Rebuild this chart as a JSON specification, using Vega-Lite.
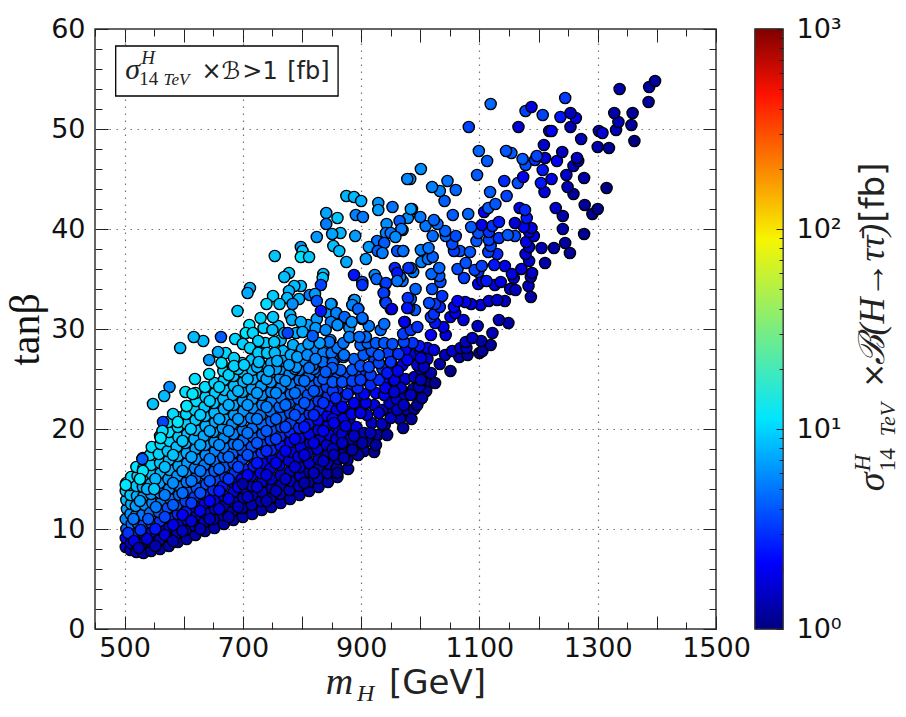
{
"$schema":"https://vega.github.io/schema/vega-lite/v6.json",
"background":"white",
"padding":{"left":3,"top":14,"right":0,"bottom":0},
"spacing":1,
"config":{"view":{"stroke":"#333","strokeWidth":1.5},"axis":{"labelFont":"DejaVu Sans","labelFontSize":27,"labelColor":"#111","tickColor":"#222","domain":false,"labelOverlap":false}},
"hconcat":[
{"width":621,"height":600,
"resolve":{"axis":{"x":"independent","y":"independent"}},
"layer":[
{"data":{"values":[
{"m":502,"t":8.2,"s":1.6},{"m":502,"t":9.1,"s":2},{"m":503,"t":10,"s":3.2},{"m":502,"t":11,"s":4.2},{"m":504,"t":12,"s":5.5},{"m":503,"t":12.9,"s":7},{"m":502,"t":13.8,"s":9},{"m":503,"t":14.6,"s":11},
{"m":510,"t":7.9,"s":1.4},{"m":511,"t":8.6,"s":1.8},{"m":509,"t":9.6,"s":2.5},{"m":512,"t":10.5,"s":3.4},{"m":510,"t":11.5,"s":4.6},{"m":511,"t":12.5,"s":6},{"m":510,"t":13.4,"s":7.5},{"m":509,"t":14.4,"s":9.5},{"m":511,"t":15.2,"s":11},
{"m":520,"t":7.7,"s":1.4},{"m":521,"t":8.5,"s":1.7},{"m":519,"t":9.5,"s":2.4},{"m":522,"t":10.6,"s":3.2},{"m":520,"t":11.4,"s":4.2},{"m":519,"t":12.3,"s":5.2},{"m":521,"t":13.3,"s":6.6},{"m":520,"t":14.3,"s":8},{"m":522,"t":15.3,"s":10},{"m":520,"t":16.2,"s":11.5},
{"m":532,"t":7.6,"s":1.3},{"m":531,"t":8.6,"s":1.6},{"m":533,"t":9.5,"s":2.1},{"m":532,"t":10.4,"s":2.8},{"m":530,"t":11.4,"s":3.6},{"m":534,"t":12.4,"s":4.5},{"m":532,"t":13.3,"s":5.5},{"m":531,"t":14.2,"s":6.7},{"m":533,"t":15.1,"s":8},{"m":532,"t":16.1,"s":9.5},{"m":531,"t":17.1,"s":11},
{"m":545,"t":7.8,"s":1.3},{"m":544,"t":8.7,"s":1.6},{"m":546,"t":9.7,"s":2},{"m":545,"t":10.6,"s":2.6},{"m":543,"t":11.6,"s":3.4},{"m":547,"t":12.6,"s":4.2},{"m":545,"t":13.5,"s":5},{"m":544,"t":14.5,"s":6.2},{"m":546,"t":15.5,"s":7.5},{"m":545,"t":16.4,"s":9},{"m":543,"t":17.4,"s":10},{"m":546,"t":18.2,"s":11},
{"m":560,"t":8,"s":1.3},{"m":559,"t":8.9,"s":1.5},{"m":561,"t":9.9,"s":1.9},{"m":560,"t":10.8,"s":2.4},{"m":558,"t":11.7,"s":3},{"m":562,"t":12.7,"s":3.7},{"m":560,"t":13.6,"s":4.5},{"m":559,"t":14.6,"s":5.5},{"m":561,"t":15.6,"s":6.6},{"m":560,"t":16.6,"s":7.8},{"m":558,"t":17.5,"s":9},{"m":561,"t":18.5,"s":10},{"m":560,"t":19.3,"s":11.5},
{"m":575,"t":8.3,"s":1.3},{"m":574,"t":9.2,"s":1.5},{"m":576,"t":10.2,"s":1.9},{"m":575,"t":11.1,"s":2.3},{"m":573,"t":12.1,"s":2.8},{"m":577,"t":13,"s":3.4},{"m":575,"t":14,"s":4.2},{"m":574,"t":15,"s":5},{"m":576,"t":15.9,"s":6},{"m":575,"t":16.9,"s":7},{"m":573,"t":17.8,"s":8},{"m":576,"t":18.8,"s":9},{"m":575,"t":19.7,"s":10.5},{"m":574,"t":20.7,"s":11.5},
{"m":590,"t":8.7,"s":1.3},{"m":589,"t":9.6,"s":1.5},{"m":591,"t":10.5,"s":1.9},{"m":590,"t":11.5,"s":2.3},{"m":588,"t":12.4,"s":2.8},{"m":592,"t":13.4,"s":3.3},{"m":590,"t":14.4,"s":4},{"m":589,"t":15.3,"s":4.7},{"m":591,"t":16.3,"s":5.5},{"m":590,"t":17.3,"s":6.4},{"m":588,"t":18.2,"s":7.4},{"m":591,"t":19.2,"s":8.5},{"m":590,"t":20.2,"s":9.5},{"m":589,"t":21.2,"s":10.5},
{"m":605,"t":9,"s":1.3},{"m":604,"t":9.9,"s":1.5},{"m":606,"t":10.9,"s":1.8},{"m":605,"t":11.8,"s":2.2},{"m":603,"t":12.8,"s":2.6},{"m":607,"t":13.7,"s":3.1},{"m":605,"t":14.7,"s":3.7},{"m":604,"t":15.7,"s":4.4},{"m":606,"t":16.6,"s":5},{"m":605,"t":17.6,"s":5.8},{"m":603,"t":18.6,"s":6.7},{"m":606,"t":19.5,"s":7.6},{"m":605,"t":20.5,"s":8.6},{"m":604,"t":21.5,"s":9.6},{"m":605,"t":22.3,"s":12},
{"m":620,"t":9.4,"s":1.3},{"m":619,"t":10.3,"s":1.5},{"m":621,"t":11.3,"s":1.7},{"m":620,"t":12.2,"s":2.1},{"m":618,"t":13.2,"s":2.5},{"m":622,"t":14.1,"s":2.9},{"m":620,"t":15.1,"s":3.4},{"m":619,"t":16.1,"s":4},{"m":621,"t":17,"s":4.7},{"m":620,"t":18,"s":5.4},{"m":618,"t":19,"s":6.2},{"m":621,"t":19.9,"s":7},{"m":620,"t":20.9,"s":8},{"m":619,"t":21.9,"s":9},{"m":621,"t":22.8,"s":10},{"m":620,"t":23.6,"s":11},
{"m":636,"t":9.8,"s":1.3},{"m":635,"t":10.7,"s":1.5},{"m":637,"t":11.6,"s":1.7},{"m":636,"t":12.6,"s":2},{"m":634,"t":13.5,"s":2.4},{"m":638,"t":14.5,"s":2.8},{"m":636,"t":15.5,"s":3.2},{"m":635,"t":16.4,"s":3.8},{"m":637,"t":17.4,"s":4.4},{"m":636,"t":18.4,"s":5},{"m":634,"t":19.3,"s":5.8},{"m":637,"t":20.3,"s":6.6},{"m":636,"t":21.3,"s":7.4},{"m":635,"t":22.2,"s":8.3},{"m":637,"t":23.2,"s":9.3},{"m":636,"t":24.2,"s":10.5},
{"m":652,"t":10.1,"s":1.3},{"m":651,"t":11,"s":1.4},{"m":653,"t":12,"s":1.7},{"m":652,"t":12.9,"s":2},{"m":650,"t":13.9,"s":2.3},{"m":654,"t":14.9,"s":2.6},{"m":652,"t":15.8,"s":3},{"m":651,"t":16.8,"s":3.5},{"m":653,"t":17.8,"s":4.1},{"m":652,"t":18.7,"s":4.7},{"m":650,"t":19.7,"s":5.3},{"m":653,"t":20.7,"s":6},{"m":652,"t":21.6,"s":6.8},{"m":651,"t":22.6,"s":7.6},{"m":653,"t":23.6,"s":8.6},{"m":652,"t":24.6,"s":9.6},
{"m":668,"t":10.5,"s":1.3},{"m":667,"t":11.4,"s":1.4},{"m":669,"t":12.3,"s":1.6},{"m":668,"t":13.3,"s":1.9},{"m":666,"t":14.3,"s":2.2},{"m":670,"t":15.2,"s":2.5},{"m":668,"t":16.2,"s":2.9},{"m":667,"t":17.2,"s":3.3},{"m":669,"t":18.1,"s":3.8},{"m":668,"t":19.1,"s":4.4},{"m":666,"t":20.1,"s":5},{"m":669,"t":21,"s":5.6},{"m":668,"t":22,"s":6.3},{"m":667,"t":23,"s":7},{"m":669,"t":23.9,"s":8},{"m":668,"t":24.9,"s":9},{"m":667,"t":25.8,"s":10},
{"m":684,"t":10.9,"s":1.3},{"m":683,"t":11.8,"s":1.4},{"m":685,"t":12.7,"s":1.6},{"m":684,"t":13.7,"s":1.8},{"m":682,"t":14.7,"s":2.1},{"m":686,"t":15.6,"s":2.4},{"m":684,"t":16.6,"s":2.7},{"m":683,"t":17.6,"s":3.1},{"m":685,"t":18.5,"s":3.6},{"m":684,"t":19.5,"s":4.1},{"m":682,"t":20.5,"s":4.6},{"m":685,"t":21.4,"s":5.2},{"m":684,"t":22.4,"s":5.8},{"m":683,"t":23.4,"s":6.5},{"m":685,"t":24.3,"s":7.3},{"m":684,"t":25.3,"s":8.2},{"m":683,"t":26.2,"s":9},
{"m":700,"t":11.2,"s":1.3},{"m":699,"t":12.1,"s":1.4},{"m":701,"t":13.1,"s":1.6},{"m":700,"t":14.1,"s":1.8},{"m":698,"t":15,"s":2},{"m":702,"t":16,"s":2.3},{"m":700,"t":17,"s":2.6},{"m":699,"t":17.9,"s":2.9},{"m":701,"t":18.9,"s":3.4},{"m":700,"t":19.9,"s":3.8},{"m":698,"t":20.8,"s":4.3},{"m":701,"t":21.8,"s":4.8},{"m":700,"t":22.8,"s":5.4},{"m":699,"t":23.7,"s":6},{"m":701,"t":24.7,"s":6.8},{"m":700,"t":25.7,"s":7.6},{"m":699,"t":26.6,"s":8.5},
{"m":716,"t":11.5,"s":1.3},{"m":715,"t":12.4,"s":1.4},{"m":717,"t":13.4,"s":1.5},{"m":716,"t":14.3,"s":1.7},{"m":714,"t":15.3,"s":1.9},{"m":718,"t":16.3,"s":2.2},{"m":716,"t":17.2,"s":2.5},{"m":715,"t":18.2,"s":2.8},{"m":717,"t":19.2,"s":3.1},{"m":716,"t":20.1,"s":3.5},{"m":714,"t":21.1,"s":4},{"m":717,"t":22.1,"s":4.5},{"m":716,"t":23,"s":5},{"m":715,"t":24,"s":5.6},{"m":717,"t":25,"s":6.3},{"m":716,"t":25.9,"s":7},{"m":715,"t":26.9,"s":7.8},
{"m":732,"t":11.9,"s":1.3},{"m":731,"t":12.8,"s":1.4},{"m":733,"t":13.7,"s":1.5},{"m":732,"t":14.7,"s":1.7},{"m":730,"t":15.6,"s":1.9},{"m":734,"t":16.6,"s":2.1},{"m":732,"t":17.6,"s":2.4},{"m":731,"t":18.5,"s":2.6},{"m":733,"t":19.5,"s":2.9},{"m":732,"t":20.5,"s":3.3},{"m":730,"t":21.4,"s":3.7},{"m":733,"t":22.4,"s":4.2},{"m":732,"t":23.4,"s":4.6},{"m":731,"t":24.3,"s":5.2},{"m":733,"t":25.3,"s":5.8},{"m":732,"t":26.3,"s":6.5},
{"m":748,"t":12.2,"s":1.3},{"m":747,"t":13.1,"s":1.4},{"m":749,"t":14.1,"s":1.5},{"m":748,"t":15,"s":1.6},{"m":746,"t":16,"s":1.8},{"m":750,"t":17,"s":2},{"m":748,"t":17.9,"s":2.3},{"m":747,"t":18.9,"s":2.5},{"m":749,"t":19.9,"s":2.8},{"m":748,"t":20.8,"s":3.1},{"m":746,"t":21.8,"s":3.5},{"m":749,"t":22.8,"s":3.9},{"m":748,"t":23.7,"s":4.3},{"m":747,"t":24.7,"s":4.8},{"m":749,"t":25.7,"s":5.4},{"m":748,"t":26.6,"s":6},
{"m":764,"t":12.6,"s":1.3},{"m":763,"t":13.5,"s":1.4},{"m":765,"t":14.4,"s":1.5},{"m":764,"t":15.4,"s":1.6},{"m":762,"t":16.4,"s":1.8},{"m":766,"t":17.3,"s":2},{"m":764,"t":18.3,"s":2.2},{"m":763,"t":19.3,"s":2.4},{"m":765,"t":20.2,"s":2.7},{"m":764,"t":21.2,"s":3},{"m":762,"t":22.2,"s":3.3},{"m":765,"t":23.1,"s":3.7},{"m":764,"t":24.1,"s":4.1},{"m":763,"t":25.1,"s":4.6},{"m":765,"t":26,"s":5.1},
{"m":780,"t":13,"s":1.3},{"m":779,"t":13.9,"s":1.4},{"m":781,"t":14.8,"s":1.5},{"m":780,"t":15.8,"s":1.6},{"m":778,"t":16.8,"s":1.7},{"m":782,"t":17.7,"s":1.9},{"m":780,"t":18.7,"s":2.1},{"m":779,"t":19.7,"s":2.3},{"m":781,"t":20.6,"s":2.6},{"m":780,"t":21.6,"s":2.8},{"m":778,"t":22.6,"s":3.1},{"m":781,"t":23.5,"s":3.5},{"m":780,"t":24.5,"s":3.9},{"m":779,"t":25.5,"s":4.3},{"m":781,"t":26.4,"s":4.8},
{"m":796,"t":13.4,"s":1.3},{"m":795,"t":14.3,"s":1.4},{"m":797,"t":15.3,"s":1.5},{"m":796,"t":16.2,"s":1.6},{"m":794,"t":17.2,"s":1.7},{"m":798,"t":18.2,"s":1.9},{"m":796,"t":19.1,"s":2.1},{"m":795,"t":20.1,"s":2.3},{"m":797,"t":21.1,"s":2.5},{"m":796,"t":22,"s":2.7},{"m":794,"t":23,"s":3},{"m":797,"t":24,"s":3.3},{"m":796,"t":24.9,"s":3.6},{"m":795,"t":25.9,"s":4},
{"m":812,"t":13.8,"s":1.3},{"m":811,"t":14.7,"s":1.4},{"m":813,"t":15.7,"s":1.5},{"m":812,"t":16.6,"s":1.6},{"m":810,"t":17.6,"s":1.7},{"m":814,"t":18.6,"s":1.8},{"m":812,"t":19.5,"s":2},{"m":811,"t":20.5,"s":2.2},{"m":813,"t":21.5,"s":2.4},{"m":812,"t":22.4,"s":2.6},{"m":810,"t":23.4,"s":2.8},{"m":813,"t":24.4,"s":3.1},{"m":812,"t":25.3,"s":3.4},
{"m":828,"t":14.2,"s":1.3},{"m":827,"t":15.1,"s":1.4},{"m":829,"t":16.1,"s":1.4},{"m":828,"t":17,"s":1.5},{"m":826,"t":18,"s":1.7},{"m":830,"t":19,"s":1.8},{"m":828,"t":19.9,"s":2},{"m":827,"t":20.9,"s":2.1},{"m":829,"t":21.9,"s":2.3},{"m":828,"t":22.8,"s":2.5},{"m":826,"t":23.8,"s":2.7},{"m":829,"t":24.8,"s":3},{"m":828,"t":25.7,"s":3.2},
{"m":844,"t":14.7,"s":1.3},{"m":843,"t":15.6,"s":1.3},{"m":845,"t":16.5,"s":1.4},{"m":844,"t":17.5,"s":1.5},{"m":842,"t":18.4,"s":1.6},{"m":846,"t":19.4,"s":1.8},{"m":844,"t":20.4,"s":1.9},{"m":843,"t":21.3,"s":2.1},{"m":845,"t":22.3,"s":2.2},{"m":844,"t":23.3,"s":2.4},{"m":842,"t":24.2,"s":2.6},{"m":845,"t":25.2,"s":2.8},
{"m":860,"t":15.2,"s":1.3},{"m":859,"t":16.1,"s":1.3},{"m":861,"t":17,"s":1.4},{"m":860,"t":18,"s":1.5},{"m":858,"t":19,"s":1.6},{"m":862,"t":19.9,"s":1.7},{"m":860,"t":20.9,"s":1.9},{"m":859,"t":21.9,"s":2},{"m":861,"t":22.8,"s":2.2},{"m":860,"t":23.8,"s":2.3},
{"m":878,"t":16,"s":1.3},{"m":877,"t":16.9,"s":1.3},{"m":879,"t":17.9,"s":1.4},{"m":878,"t":18.8,"s":1.5},{"m":876,"t":19.8,"s":1.6},{"m":880,"t":20.8,"s":1.7},{"m":878,"t":21.7,"s":1.9},
{"m":506,"t":9.6,"s":2.4},{"m":515,"t":11,"s":3.6},{"m":526,"t":12.8,"s":5.5},{"m":538,"t":14,"s":6.4},{"m":552,"t":15,"s":6.5},{"m":568,"t":16.2,"s":7.2},{"m":582,"t":17.4,"s":7.6},{"m":598,"t":18.8,"s":8},{"m":612,"t":20,"s":8.4},{"m":628,"t":21.4,"s":8.4},{"m":644,"t":22.8,"s":8.4},{"m":660,"t":24.2,"s":8.8},{"m":676,"t":25.4,"s":9},{"m":692,"t":26,"s":8.5},
{"m":516,"t":8.8,"s":1.9},{"m":527,"t":9.9,"s":2.4},{"m":540,"t":11,"s":3},{"m":553,"t":12.2,"s":3.7},{"m":568,"t":13.4,"s":3.9},{"m":582,"t":14.6,"s":4.5},{"m":598,"t":15.8,"s":5},{"m":613,"t":17.2,"s":5.4},{"m":628,"t":18.4,"s":5.6},{"m":644,"t":19.8,"s":5.8},{"m":660,"t":21,"s":6},{"m":676,"t":22.4,"s":6.2},{"m":692,"t":23.8,"s":6.6},{"m":708,"t":25,"s":6.8},{"m":724,"t":26.2,"s":6.6},
{"m":524,"t":8.1,"s":1.4},{"m":538,"t":9,"s":1.7},{"m":552,"t":10,"s":2.2},{"m":568,"t":11.2,"s":2.6},{"m":582,"t":12.4,"s":3},{"m":598,"t":13.6,"s":3.4},{"m":613,"t":14.8,"s":3.7},{"m":628,"t":15.8,"s":3.7},{"m":644,"t":17,"s":4},{"m":660,"t":18.4,"s":4.4},{"m":676,"t":19.8,"s":4.6},{"m":692,"t":21,"s":4.8},{"m":708,"t":22.4,"s":5},{"m":724,"t":23.6,"s":5.2},{"m":740,"t":25,"s":5.4},{"m":756,"t":26,"s":5.2},
{"m":552,"t":8.3,"s":1.35},{"m":568,"t":9.4,"s":1.7},{"m":582,"t":10.4,"s":1.9},{"m":598,"t":11.4,"s":2.1},{"m":613,"t":12.6,"s":2.5},{"m":628,"t":13.6,"s":2.8},{"m":644,"t":14.8,"s":2.9},{"m":660,"t":16,"s":3.2},{"m":676,"t":17.2,"s":3.3},{"m":692,"t":18.4,"s":3.5},{"m":708,"t":19.6,"s":3.6},{"m":724,"t":21,"s":3.9},{"m":740,"t":22.2,"s":4},{"m":756,"t":23.6,"s":4.3},{"m":772,"t":24.8,"s":4.4},{"m":788,"t":26,"s":4.4},
{"m":582,"t":8.8,"s":1.35},{"m":598,"t":9.8,"s":1.5},{"m":613,"t":10.8,"s":1.7},{"m":628,"t":11.8,"s":1.9},{"m":644,"t":12.8,"s":2.1},{"m":660,"t":13.8,"s":2.2},{"m":676,"t":15,"s":2.4},{"m":692,"t":16.2,"s":2.6},{"m":708,"t":17.4,"s":2.8},{"m":724,"t":18.6,"s":2.9},{"m":740,"t":19.8,"s":3},{"m":756,"t":21,"s":3.1},{"m":772,"t":22.4,"s":3.4},{"m":788,"t":23.6,"s":3.5},{"m":804,"t":24.8,"s":3.5},{"m":820,"t":26,"s":3.5},
{"m":628,"t":10,"s":1.35},{"m":644,"t":11,"s":1.5},{"m":660,"t":12,"s":1.7},{"m":676,"t":13,"s":1.8},{"m":692,"t":14.2,"s":2},{"m":708,"t":15.4,"s":2.1},{"m":724,"t":16.6,"s":2.2},{"m":740,"t":17.8,"s":2.3},{"m":756,"t":19,"s":2.5},{"m":772,"t":20.2,"s":2.6},{"m":788,"t":21.4,"s":2.8},{"m":804,"t":22.6,"s":2.9},{"m":820,"t":23.8,"s":2.9},{"m":836,"t":25,"s":3},
{"m":676,"t":11.2,"s":1.35},{"m":692,"t":12.2,"s":1.45},{"m":708,"t":13.2,"s":1.55},{"m":724,"t":14.2,"s":1.65},{"m":740,"t":15.4,"s":1.75},{"m":756,"t":16.6,"s":1.9},{"m":772,"t":17.8,"s":2},{"m":788,"t":19,"s":2.1},{"m":804,"t":20.2,"s":2.2},{"m":820,"t":21.4,"s":2.3},{"m":836,"t":22.6,"s":2.4},{"m":852,"t":23.8,"s":2.5},
{"m":740,"t":12.8,"s":1.35},{"m":756,"t":13.8,"s":1.45},{"m":772,"t":15,"s":1.55},{"m":788,"t":16.2,"s":1.65},{"m":804,"t":17.4,"s":1.75},{"m":820,"t":18.6,"s":1.85},{"m":836,"t":19.8,"s":2},{"m":852,"t":21,"s":2.1},
{"m":804,"t":14.6,"s":1.3},{"m":820,"t":15.6,"s":1.4},{"m":836,"t":16.8,"s":1.5},{"m":852,"t":18,"s":1.55},{"m":868,"t":17.4,"s":1.4},{"m":890,"t":18.6,"s":1.45},{"m":905,"t":17.8,"s":1.25},{"m":895,"t":17.4,"s":1.25},{"m":912,"t":18.8,"s":1.3},
{"m":868,"t":19.5,"s":1.7},{"m":882,"t":19,"s":1.5},{"m":892,"t":20.2,"s":1.8},{"m":905,"t":19.6,"s":1.4},{"m":918,"t":20.6,"s":1.5},{"m":928,"t":19.4,"s":1.3},{"m":940,"t":20.4,"s":1.4},{"m":955,"t":21.8,"s":1.4},{"m":966,"t":21,"s":1.3},{"m":978,"t":21.9,"s":1.3},{"m":990,"t":22,"s":1.25},{"m":1000,"t":23,"s":1.25},{"m":1010,"t":23.8,"s":1.2},{"m":1015,"t":24.8,"s":1.25},{"m":870,"t":21,"s":2},{"m":884,"t":21.5,"s":1.9},{"m":896,"t":22.3,"s":1.9},{"m":910,"t":21.4,"s":1.7},{"m":922,"t":22.4,"s":1.8},{"m":936,"t":21.9,"s":1.6},{"m":948,"t":22.6,"s":1.6},{"m":960,"t":23,"s":1.6},{"m":974,"t":23.4,"s":1.45},{"m":988,"t":24,"s":1.4},{"m":1004,"t":25.4,"s":1.35},{"m":872,"t":23.2,"s":2.4},{"m":884,"t":24,"s":2.4},{"m":900,"t":23.4,"s":2.2},{"m":912,"t":24.8,"s":2.3},{"m":925,"t":23.6,"s":2.1},{"m":938,"t":24.8,"s":2.1},{"m":950,"t":24.2,"s":1.85},{"m":962,"t":24.6,"s":1.8},{"m":975,"t":25,"s":1.65},{"m":990,"t":25.2,"s":1.5},{"m":858,"t":25,"s":3},{"m":875,"t":25.4,"s":2.8},{"m":892,"t":25.4,"s":2.7},{"m":908,"t":25.8,"s":2.5},{"m":922,"t":26.8,"s":2.6},{"m":936,"t":26,"s":2.4},{"m":955,"t":26.2,"s":2.2},{"m":970,"t":26.4,"s":1.95},{"m":985,"t":27.4,"s":1.9},{"m":1000,"t":26,"s":1.55},{"m":1012,"t":27,"s":1.6},{"m":840,"t":26.6,"s":3.6},{"m":856,"t":27,"s":3.6},{"m":888,"t":27,"s":3.2},{"m":904,"t":27.4,"s":3},{"m":918,"t":27.8,"s":2.9},{"m":945,"t":27.6,"s":2.5},{"m":975,"t":27.9,"s":2.1},{"m":1000,"t":27.8,"s":1.9},
{"m":725,"t":27.8,"s":8},{"m":738,"t":28.6,"s":8},{"m":768,"t":27.8,"s":6.8},{"m":785,"t":28.4,"s":6},{"m":800,"t":28,"s":5.4},{"m":820,"t":28,"s":4.2},{"m":836,"t":27.6,"s":3.9},{"m":768,"t":26.8,"s":5.8},{"m":790,"t":26.2,"s":4.8},{"m":805,"t":26.8,"s":4.4},{"m":818,"t":26.4,"s":3.9},{"m":835,"t":26.7,"s":3.4},{"m":850,"t":27.6,"s":3.5},{"m":852,"t":26.6,"s":3.2},{"m":764,"t":28.9,"s":7},{"m":790,"t":29.6,"s":6.2},{"m":735,"t":30.1,"s":8.5},{"m":760,"t":30.3,"s":7.2},{"m":810,"t":30.4,"s":5.4},{"m":825,"t":31,"s":5},{"m":845,"t":31.6,"s":5},{"m":780,"t":31.4,"s":6.8},{"m":735,"t":27.6,"s":7.4},
{"m":860,"t":15.6,"s":1.1},{"m":854,"t":17.4,"s":1.4},{"m":871,"t":17.1,"s":1.3},{"m":868,"t":18.6,"s":1.5},{"m":885,"t":17.9,"s":1.3},{"m":902,"t":18.6,"s":1.3},{"m":922,"t":17.7,"s":1.1},{"m":925,"t":18.4,"s":1.2},{"m":888,"t":19.3,"s":1.5},{"m":916,"t":19.6,"s":1.4},{"m":944,"t":19.4,"s":1.2},{"m":854,"t":20.6,"s":1.9},{"m":874,"t":20.3,"s":1.8},{"m":935,"t":20.5,"s":1.5},{"m":971,"t":20.1,"s":1.2},{"m":950,"t":21.1,"s":1.5},{"m":985,"t":21,"s":1.2},{"m":899,"t":21.6,"s":1.8},{"m":930,"t":21.6,"s":1.7},{"m":961,"t":21.9,"s":1.5},{"m":868,"t":22.2,"s":2.1},{"m":888,"t":22.6,"s":2},{"m":908,"t":22.6,"s":1.9},{"m":972,"t":22.4,"s":1.5},{"m":995,"t":22.4,"s":1.2},{"m":857,"t":23.1,"s":2.3},{"m":1003,"t":23.1,"s":1.3},{"m":877,"t":23.5,"s":2.3},{"m":905,"t":23.5,"s":2.1},{"m":939,"t":23.4,"s":1.9},{"m":984,"t":23.4,"s":1.5},{"m":894,"t":24.1,"s":2.3},{"m":941,"t":24.1,"s":2},{"m":967,"t":24.1,"s":1.7},{"m":998,"t":24.2,"s":1.4},{"m":956,"t":23.7,"s":1.7},{"m":1025,"t":24.6,"s":1.1},{"m":852,"t":24.7,"s":2.9},{"m":868,"t":24.7,"s":2.8},{"m":885,"t":24.8,"s":2.6},{"m":899,"t":24.9,"s":2.5},{"m":916,"t":24.4,"s":2.3},{"m":930,"t":24.9,"s":2.3},{"m":956,"t":24.9,"s":1.9},{"m":1001,"t":24.9,"s":1.4},{"m":916,"t":25.4,"s":2.5},{"m":944,"t":25.6,"s":2.2},{"m":962,"t":25.8,"s":2},{"m":1018,"t":25.6,"s":1.3},{"m":1051,"t":25.8,"s":1.1},{"m":865,"t":25.9,"s":3},{"m":885,"t":25.9,"s":2.9},{"m":851,"t":26.1,"s":3},{"m":899,"t":26.3,"s":2.8},{"m":913,"t":26.2,"s":2.7},{"m":930,"t":26.6,"s":2.6},{"m":950,"t":26.7,"s":2.4},{"m":995,"t":26.4,"s":1.7},{"m":1006,"t":26.2,"s":1.5},{"m":1033,"t":26.5,"s":1.3},
{"m":978,"t":26.9,"s":2.1},{"m":1001,"t":27.1,"s":1.8},{"m":870,"t":27.2,"s":3.3},{"m":930,"t":27.4,"s":2.9},{"m":963,"t":27.5,"s":2.4},{"m":1042,"t":27.4,"s":1.4},{"m":1066,"t":27.2,"s":1.3},{"m":1080,"t":27.4,"s":1.2},{"m":1100,"t":27.6,"s":1.1},{"m":1105,"t":27.8,"s":1.2},{"m":860,"t":28.1,"s":3.8},{"m":1012,"t":28.1,"s":2},{"m":1023,"t":27.9,"s":1.8},{"m":1054,"t":27.8,"s":1.6},{"m":1068,"t":28.1,"s":1.5},{"m":1078,"t":28.1,"s":1.4},{"m":899,"t":28.4,"s":3.2},{"m":998,"t":28.3,"s":2.2},{"m":1119,"t":28.4,"s":1.2},{"m":911,"t":28.6,"s":3.2},{"m":870,"t":28.6,"s":3.6},{"m":925,"t":28.6,"s":3},{"m":939,"t":28.6,"s":2.9},{"m":953,"t":28.5,"s":2.8},{"m":987,"t":28.6,"s":2.4},{"m":1077,"t":28.7,"s":1.5},{"m":1103,"t":28.8,"s":1.3},{"m":848,"t":28.9,"s":4.3},{"m":972,"t":28.7,"s":2.6},{"m":1088,"t":29.1,"s":1.5},{"m":881,"t":29.2,"s":4.4},{"m":908,"t":29.2,"s":3.4},{"m":1018,"t":29.4,"s":2.1},{"m":1043,"t":29.4,"s":1.8},{"m":971,"t":29.5,"s":2.5},{"m":1122,"t":29.6,"s":1.4},{"m":933,"t":29.9,"s":3.3},{"m":984,"t":29.9,"s":2.4},{"m":880,"t":30.1,"s":4.6},{"m":995,"t":30.2,"s":2.4},{"m":1039,"t":30.2,"s":1.9},{"m":1097,"t":30.3,"s":1.5},{"m":860,"t":30.4,"s":5},{"m":913,"t":30.3,"s":3.8},{"m":939,"t":30.5,"s":3.4},{"m":974,"t":30.7,"s":2.7},{"m":1025,"t":30.6,"s":2.2},{"m":1149,"t":30.6,"s":1.3},{"m":1073,"t":30.9,"s":1.7},{"m":1133,"t":30.9,"s":1.4},{"m":902,"t":31,"s":4.2},{"m":871,"t":31.1,"s":5},{"m":1051,"t":31.2,"s":2},{"m":1018,"t":31.2,"s":2.5},{"m":1023,"t":31.5,"s":2.4},{"m":858,"t":31.6,"s":5.6},{"m":1059,"t":31.6,"s":2},{"m":991,"t":31.9,"s":3},{"m":895,"t":32,"s":4.7},{"m":950,"t":32,"s":2.9},{"m":981,"t":32.1,"s":3},{"m":1033,"t":32.2,"s":2.3},{"m":1057,"t":32.2,"s":2.1},{"m":886,"t":32.4,"s":5},{"m":1102,"t":32.4,"s":1.8},{"m":850,"t":32.5,"s":6},{"m":1025,"t":32.5,"s":2.5},{"m":1086,"t":32.5,"s":1.8},{"m":1015,"t":32.6,"s":2.7},{"m":941,"t":32.7,"s":3.5},{"m":1076,"t":32.7,"s":1.9},{"m":1063,"t":32.8,"s":2.1},{"m":1116,"t":32.8,"s":1.7},{"m":1143,"t":32.8,"s":1.5},{"m":888,"t":32.9,"s":4.8},{"m":1130,"t":32.9,"s":1.6},{"m":984,"t":33,"s":3},{"m":1187,"t":33.2,"s":1.3},{"m":1037,"t":33.3,"s":2.4},{"m":1152,"t":34,"s":1.6},{"m":1161,"t":33.9,"s":1.5},{"m":992,"t":34,"s":3.2},{"m":1020,"t":34,"s":2.8},{"m":939,"t":33.6,"s":3.8},{"m":941,"t":34.5,"s":4},{"m":1183,"t":34.3,"s":1.5},{"m":1098,"t":34.5,"s":2.1},{"m":1126,"t":34.4,"s":1.8},{"m":1034,"t":34.7,"s":2.7},{"m":1136,"t":34.7,"s":1.8},{"m":970,"t":34.8,"s":3.6},{"m":1105,"t":34.8,"s":2.1},{"m":1112,"t":34.8,"s":2.2},{"m":1158,"t":35.1,"s":1.7},{"m":1074,"t":35.1,"s":2.5},{"m":966,"t":35.2,"s":3.8},{"m":1187,"t":35.2,"s":1.5},{"m":1032,"t":35.3,"s":3},{"m":1019,"t":35.5,"s":3.2},{"m":1155,"t":35.5,"s":1.8},{"m":1189,"t":35.6,"s":1.5},{"m":988,"t":35.7,"s":3.7},{"m":1098,"t":35.7,"s":2.4},{"m":1092,"t":35.9,"s":2.6},{"m":1063,"t":36,"s":2.7},{"m":1171,"t":36,"s":1.7},{"m":984,"t":36.1,"s":3.9},{"m":1032,"t":36.1,"s":3.2},{"m":1104,"t":36.3,"s":2.5},{"m":1143,"t":36.3,"s":1.9},{"m":1125,"t":36.4,"s":2.2},{"m":1077,"t":36.6,"s":2.8},{"m":1211,"t":36.6,"s":1.3},{"m":1002,"t":36.7,"s":3.9},{"m":1184,"t":36.8,"s":1.6},{"m":1013,"t":37,"s":3.5},{"m":1021,"t":37.2,"s":3.1},{"m":1130,"t":37.5,"s":2.3},{"m":1178,"t":37.5,"s":1.7},{"m":1253,"t":37.6,"s":1.2},{"m":1067,"t":37.8,"s":2.8},{"m":1057,"t":37.8,"s":2.5},{"m":1084,"t":37.7,"s":2.9},{"m":1115,"t":37.7,"s":2.5},{"m":971,"t":37.8,"s":4.2},{"m":1001,"t":37.9,"s":3.8},{"m":1014,"t":38.1,"s":3.6},{"m":1184,"t":38.2,"s":1.7},{"m":1205,"t":38.1,"s":1.4},{"m":1226,"t":38.1,"s":1.3},{"m":1119,"t":38.3,"s":2.6},{"m":1054,"t":38.5,"s":2.7},{"m":1245,"t":38.6,"s":1.2},{"m":1179,"t":38.7,"s":1.9},{"m":1095,"t":38.8,"s":2.9},{"m":1116,"t":38.9,"s":2.6},{"m":1133,"t":39.1,"s":2.4},{"m":1021,"t":39.3,"s":3.4},{"m":1043,"t":39.3,"s":3.2},{"m":1060,"t":39.3,"s":2.7},{"m":1160,"t":39.3,"s":2.7},{"m":1192,"t":39.3,"s":1.8},{"m":1148,"t":39.4,"s":2.9},{"m":1277,"t":39.5,"s":1.1},{"m":1098,"t":39.6,"s":2.8},{"m":1116,"t":39.7,"s":2.4},{"m":1184,"t":39.7,"s":1.9},{"m":1042,"t":39.8,"s":3.1},{"m":970,"t":39.9,"s":4.2},{"m":1241,"t":40,"s":1.3},{"m":1188,"t":40.1,"s":1.8},{"m":1086,"t":40.2,"s":3},{"m":1175,"t":40.2,"s":2},{"m":1009,"t":40.3,"s":3.7},{"m":1122,"t":40.3,"s":2.4},{"m":1104,"t":40.4,"s":1.9},{"m":1029,"t":40.5,"s":3.4},{"m":1160,"t":40.6,"s":1.7},{"m":1133,"t":40.7,"s":2.2},{"m":1023,"t":40.9,"s":3.2},{"m":979,"t":41.1,"s":4.4},{"m":1000,"t":41.2,"s":3.7},{"m":1180,"t":41.1,"s":2.2},{"m":1241,"t":41.3,"s":1.3},{"m":1055,"t":41.4,"s":3},{"m":1291,"t":41.5,"s":1.1},{"m":1081,"t":41.5,"s":3.2},{"m":1108,"t":41.7,"s":2.1},{"m":986,"t":42,"s":4.6},{"m":1300,"t":42,"s":1.1},{"m":1115,"t":42.1,"s":3},{"m":1168,"t":42.1,"s":2.1},{"m":1177,"t":41.9,"s":2.3},{"m":1229,"t":42.1,"s":1.6},{"m":1278,"t":42.4,"s":1.2},{"m":1127,"t":42.5,"s":2.9},{"m":1041,"t":42.8,"s":3.1},{"m":1146,"t":43.3,"s":2.6},{"m":1259,"t":43.5,"s":1.2},{"m":1118,"t":43.7,"s":3},{"m":1210,"t":43.7,"s":1.8},{"m":1033,"t":43.8,"s":4},{"m":1060,"t":43.9,"s":3.2},{"m":1315,"t":44.1,"s":1.05},{"m":1020,"t":44.2,"s":4},{"m":1249,"t":44.2,"s":1.4},{"m":1165,"t":44.6,"s":2.8},{"m":1204,"t":44.6,"s":2.2},{"m":1142,"t":44.8,"s":2.3},{"m":1046,"t":44.8,"s":3.6},{"m":983,"t":45,"s":4.6},{"m":1222,"t":45,"s":1.9},{"m":1277,"t":45.1,"s":1.3},{"m":1174,"t":45.2,"s":2},{"m":1096,"t":45.4,"s":3},{"m":1247,"t":45.4,"s":1.6},{"m":1207,"t":45.9,"s":2.2},{"m":1001,"t":46,"s":4.5},{"m":1259,"t":46.3,"s":1.5},{"m":1178,"t":46.4,"s":2.8},{"m":1113,"t":46.8,"s":3},{"m":1231,"t":46.8,"s":2},{"m":1267,"t":46.8,"s":1.4},{"m":1194,"t":46.9,"s":2.4},{"m":1173,"t":47,"s":3},{"m":1211,"t":47.1,"s":1.7},{"m":1265,"t":47.1,"s":1.5},{"m":1197,"t":47.3,"s":2.6},{"m":1154,"t":47.6,"s":3},{"m":1240,"t":47.7,"s":1.5},{"m":1099,"t":47.8,"s":3.3},{"m":1145,"t":47.8,"s":2.9},{"m":1319,"t":48.1,"s":1.2},{"m":1300,"t":48.2,"s":1.3},{"m":1209,"t":48.4,"s":1.6},{"m":1362,"t":48.8,"s":1.05},{"m":1272,"t":49,"s":1.4},{"m":1302,"t":49.8,"s":1.4},{"m":1308,"t":49.6,"s":1.7},{"m":1218,"t":49.8,"s":1.7},{"m":1222,"t":49.8,"s":2},{"m":1331,"t":49.9,"s":1.4},{"m":1082,"t":50.2,"s":2.6},{"m":1166,"t":50.2,"s":1.7},{"m":1254,"t":50.2,"s":1.4},{"m":1357,"t":50.4,"s":1.2},{"m":1335,"t":50.7,"s":1.4},{"m":1263,"t":51.1,"s":1.9},{"m":1237,"t":51.2,"s":2.2},{"m":1207,"t":51.4,"s":2.6},{"m":1254,"t":51.6,"s":1.5},{"m":1328,"t":51.6,"s":1.3},{"m":1359,"t":51.6,"s":1.2},{"m":1178,"t":51.8,"s":2.6},{"m":1188,"t":52.2,"s":1.8},{"m":1119,"t":52.5,"s":3.3},{"m":1386,"t":52.7,"s":1.2},{"m":1245,"t":53.1,"s":2.5},{"m":1337,"t":54,"s":1.3},{"m":1387,"t":54.2,"s":1.3},{"m":1397,"t":54.8,"s":1.2},
{"m":875,"t":43.3,"s":6.5},{"m":888,"t":43.2,"s":6.8},{"m":900,"t":42.8,"s":6.2},{"m":929,"t":42.6,"s":4.8},{"m":929,"t":41.9,"s":5.2},{"m":953,"t":42.2,"s":3.6},{"m":978,"t":45,"s":4.2},{"m":841,"t":41.6,"s":5.5},{"m":860,"t":41.1,"s":8},{"m":891,"t":41.4,"s":4},{"m":903,"t":41.2,"s":3.8},{"m":841,"t":40.5,"s":3.9},{"m":943,"t":40.5,"s":4.5},{"m":965,"t":40.8,"s":3},{"m":984,"t":42,"s":5},{"m":968,"t":40,"s":3.8},{"m":865,"t":39.6,"s":6.5},{"m":851,"t":39.5,"s":5.5},{"m":825,"t":39.2,"s":5},{"m":890,"t":39.3,"s":5.2},{"m":942,"t":39.6,"s":4},{"m":950,"t":39.6,"s":3.6},{"m":958,"t":39.2,"s":4.4},{"m":927,"t":38.8,"s":3.4},{"m":939,"t":38.6,"s":3},{"m":913,"t":38.2,"s":5},{"m":928,"t":37.8,"s":3},{"m":936,"t":37.6,"s":3.8},{"m":961,"t":37.8,"s":2.8},{"m":971,"t":37.8,"s":3.5},{"m":798,"t":38.2,"s":4.8},{"m":801,"t":37.8,"s":8.5},{"m":853,"t":38.3,"s":7.2},{"m":863,"t":37.8,"s":7},{"m":754,"t":37.3,"s":8},{"m":798,"t":37.2,"s":11},{"m":812,"t":37.2,"s":8},{"m":875,"t":36.7,"s":5.8},{"m":908,"t":37,"s":5},{"m":957,"t":36.1,"s":2.3},{"m":961,"t":35.6,"s":2.2},{"m":980,"t":36.1,"s":2.4},{"m":836,"t":35.5,"s":7},{"m":778,"t":35.6,"s":7.6},{"m":770,"t":35.2,"s":7.2},{"m":835,"t":35.1,"s":7.4},{"m":888,"t":35.4,"s":2.2},{"m":923,"t":35.4,"s":4.4},{"m":926,"t":35,"s":3.2},{"m":902,"t":34.7,"s":2.8},{"m":902,"t":34.4,"s":2.4},{"m":961,"t":34.8,"s":3.6},{"m":942,"t":34.6,"s":2.5},{"m":832,"t":34.4,"s":2.6},{"m":712,"t":34.1,"s":6.3},{"m":708,"t":33.6,"s":5.8},{"m":798,"t":34.3,"s":7},{"m":787,"t":34.3,"s":7},{"m":778,"t":33.8,"s":6.6},{"m":938,"t":33.6,"s":2.5},{"m":751,"t":33.3,"s":8.5},{"m":775,"t":33.1,"s":7},{"m":795,"t":33,"s":6.3},{"m":813,"t":33.4,"s":3.8},{"m":822,"t":33.5,"s":5},{"m":825,"t":32.8,"s":2.9},{"m":979,"t":33.1,"s":2.4},{"m":740,"t":32.5,"s":10},{"m":762,"t":32.5,"s":7.6},{"m":784,"t":32.5,"s":4.5},{"m":849,"t":32.5,"s":4.8},{"m":889,"t":32.9,"s":4.8},{"m":885,"t":32.4,"s":4},{"m":942,"t":32.6,"s":2.6},{"m":895,"t":32,"s":3.2},{"m":952,"t":32,"s":1.8},{"m":978,"t":32.1,"s":2.2},{"m":691,"t":31.8,"s":8},{"m":832,"t":31.8,"s":2.2},{"m":858,"t":31.6,"s":4},{"m":872,"t":31.2,"s":3.2},{"m":730,"t":31.1,"s":9},{"m":751,"t":31.2,"s":8},{"m":783,"t":30.9,"s":6},{"m":798,"t":30.7,"s":6},{"m":849,"t":30.7,"s":4},{"m":902,"t":31.1,"s":3.4},{"m":973,"t":30.7,"s":2},
{"m":884,"t":30.7,"s":4.5},{"m":801,"t":29.7,"s":6},{"m":823,"t":30.1,"s":5},{"m":840,"t":29.9,"s":4.3},{"m":860,"t":30.4,"s":4.6},{"m":880,"t":29.2,"s":4},{"m":897,"t":29.2,"s":3.4},{"m":846,"t":28.7,"s":3.5},{"m":830,"t":28.6,"s":5},{"m":811,"t":28.5,"s":5},{"m":818,"t":29.3,"s":3},{"m":770,"t":29.6,"s":6.3},{"m":750,"t":29.9,"s":7.3},{"m":776,"t":29.6,"s":2.6},{"m":753,"t":28.7,"s":8},{"m":711,"t":30.4,"s":11},{"m":705,"t":29.6,"s":12},{"m":717,"t":29.6,"s":9.5},{"m":687,"t":29,"s":9.5},{"m":700,"t":28.5,"s":9},{"m":726,"t":28.8,"s":8.5},{"m":663,"t":29.2,"s":3},{"m":633,"t":28.8,"s":7},{"m":617,"t":29.2,"s":7},{"m":594,"t":28.1,"s":7},{"m":671,"t":27.6,"s":9.5},{"m":658,"t":27.7,"s":6},{"m":712,"t":28.1,"s":9},{"m":726,"t":27.6,"s":8.5},{"m":741,"t":27.6,"s":8},{"m":754,"t":27.6,"s":7},{"m":781,"t":27.4,"s":6},{"m":792,"t":27.2,"s":5.5},{"m":809,"t":27.4,"s":4.5},{"m":823,"t":27,"s":4},{"m":871,"t":27.4,"s":3.6},{"m":685,"t":27.1,"s":9},{"m":643,"t":26.9,"s":5},{"m":664,"t":26.6,"s":10.5},{"m":685,"t":26.3,"s":9},{"m":702,"t":26.4,"s":9},{"m":727,"t":26.7,"s":7},{"m":758,"t":26.8,"s":6},{"m":778,"t":26.4,"s":5},{"m":744,"t":25.8,"s":6},{"m":812,"t":26.1,"s":3.6},{"m":840,"t":25.7,"s":3},{"m":643,"t":25.5,"s":11},{"m":619,"t":25,"s":10.5},{"m":576,"t":24.2,"s":4.5},{"m":567,"t":23.3,"s":7},{"m":548,"t":22.5,"s":7.5},{"m":603,"t":23.7,"s":11},{"m":615,"t":23.5,"s":12},{"m":605,"t":22.3,"s":12.5},{"m":582,"t":21.5,"s":10},{"m":590,"t":20.7,"s":12},{"m":565,"t":20.7,"s":2.6},{"m":564,"t":19.8,"s":10},{"m":561,"t":19.1,"s":12},{"m":530,"t":17,"s":3},{"m":531,"t":15.8,"s":11.5},{"m":526,"t":15,"s":12},{"m":502,"t":14.4,"s":11.5},{"m":550,"t":14,"s":8},{"m":700,"t":14.5,"s":1.3}
]},
"mark":{"type":"point","shape":"circle","filled":true,"size":125,"opacity":1,"stroke":"black","strokeWidth":1.4},
"encoding":{
"x":{"field":"m","type":"quantitative","scale":{"domain":[450,1500],"nice":false},"axis":{"orient":"bottom","title":null,"values":[450,500,550,600,650,700,750,800,850,900,950,1000,1050,1100,1150,1200,1250,1300,1350,1400,1450,1500],"format":"d","labelFlush":false,"labelExpr":"(datum.value-500)%200==0?datum.label:''","labelPadding":19,"tickSize":{"condition":{"test":"(datum.value-500)%100==0","value":-13},"value":-7},"grid":true,"gridColor":{"condition":{"test":"(datum.value-500)%200==0&&datum.value<1500","value":"#777"},"value":"transparent"},"gridDash":[1.5,5.5],"gridWidth":1.2}},
"y":{"field":"t","type":"quantitative","scale":{"domain":[0,60],"nice":false},"axis":{"orient":"left","title":"tanβ","titleFont":"Liberation Serif","titleFontSize":42,"titleFontWeight":"normal","titleColor":"#111","titlePadding":3,"values":[0,2,4,6,8,10,12,14,16,18,20,22,24,26,28,30,32,34,36,38,40,42,44,46,48,50,52,54,56,58,60],"labelExpr":"datum.value%10==0?datum.label:''","labelPadding":23,"tickSize":{"condition":{"test":"datum.value%10==0","value":-13},"value":-7},"grid":true,"gridColor":{"condition":{"test":"datum.value%10==0&&datum.value>0&&datum.value<60","value":"#777"},"value":"transparent"},"gridDash":[1.5,5.5],"gridWidth":1.2}},
"color":{"field":"s","type":"quantitative","legend":null,"scale":{"type":"log","domain":[1,2.138,11.22,89.1,467.7,1000],"range":["#00007f","#0000ff","#00e5ff","#f7f500","#ff1200","#7f0000"]}}
}},
{"data":{"values":[{"note":"box"}]},
"mark":{"type":"rect","fill":"white","stroke":"black","strokeWidth":1.3},
"encoding":{
"x":{"datum":485,"axis":{"orient":"top","title":null,"labels":false,"values":[450,500,550,600,650,700,750,800,850,900,950,1000,1050,1100,1150,1200,1250,1300,1350,1400,1450,1500],"grid":false,"tickSize":{"condition":{"test":"(datum.value-500)%100==0","value":-13},"value":-7}}},
"x2":{"datum":861},
"y":{"datum":53.3,"axis":{"orient":"right","title":null,"labels":false,"values":[0,2,4,6,8,10,12,14,16,18,20,22,24,26,28,30,32,34,36,38,40,42,44,46,48,50,52,54,56,58,60],"grid":false,"tickSize":{"condition":{"test":"datum.value%10==0","value":-13},"value":-7}}},
"y2":{"datum":58.3}
}},
{"data":{"values":[{"note":"σ"}]},"mark":{"type":"text","align":"left","baseline":"alphabetic","font":"Liberation Serif","fontStyle":"italic","fontSize":30,"color":"#222"},"encoding":{"x":{"datum":501,"axis":null},"y":{"datum":55,"axis":null},"text":{"value":"σ"}}},
{"data":{"values":[{"note":"H"}]},"mark":{"type":"text","align":"left","baseline":"alphabetic","font":"Liberation Serif","fontStyle":"italic","fontSize":19,"color":"#222"},"encoding":{"x":{"datum":528,"axis":null},"y":{"datum":56.5,"axis":null},"text":{"value":"H"}}},
{"data":{"values":[{"note":"14"}]},"mark":{"type":"text","align":"left","baseline":"alphabetic","font":"Liberation Serif","fontSize":19,"color":"#222"},"encoding":{"x":{"datum":525,"axis":null},"y":{"datum":54.4,"axis":null},"text":{"value":"14"}}},
{"data":{"values":[{"note":"TeV"}]},"mark":{"type":"text","align":"left","baseline":"alphabetic","font":"Liberation Serif","fontStyle":"italic","fontSize":17,"color":"#222"},"encoding":{"x":{"datum":566,"axis":null},"y":{"datum":54.4,"axis":null},"text":{"value":"TeV"}}},
{"data":{"values":[{"note":"BR"}]},"mark":{"type":"text","align":"left","baseline":"alphabetic","font":"DejaVu Sans","fontSize":24,"color":"#222"},"encoding":{"x":{"datum":630,"axis":null},"y":{"datum":55,"axis":null},"text":{"value":"×ℬ"}}},
{"data":{"values":[{"note":"cut"}]},"mark":{"type":"text","align":"left","baseline":"alphabetic","font":"DejaVu Sans","fontSize":24,"color":"#222"},"encoding":{"x":{"datum":699,"axis":null},"y":{"datum":55,"axis":null},"text":{"value":">1"}}},
{"data":{"values":[{"note":"fb"}]},"mark":{"type":"text","align":"left","baseline":"alphabetic","font":"DejaVu Sans","fontSize":24,"color":"#222"},"encoding":{"x":{"datum":775,"axis":null},"y":{"datum":55,"axis":null},"text":{"value":"[fb]"}}},
{"data":{"values":[{"note":"m"}]},"mark":{"type":"text","align":"left","baseline":"alphabetic","font":"Liberation Serif","fontStyle":"italic","fontSize":38,"color":"#222"},"encoding":{"x":{"datum":840,"axis":null},"y":{"datum":-6.5,"axis":null},"text":{"value":"m"}}},
{"data":{"values":[{"note":"H"}]},"mark":{"type":"text","align":"left","baseline":"alphabetic","font":"Liberation Serif","fontStyle":"italic","fontSize":24,"color":"#222"},"encoding":{"x":{"datum":893,"axis":null},"y":{"datum":-7.2,"axis":null},"text":{"value":"H"}}},
{"data":{"values":[{"note":"GeV"}]},"mark":{"type":"text","align":"left","baseline":"alphabetic","font":"DejaVu Sans","fontSize":34,"color":"#222"},"encoding":{"x":{"datum":947,"axis":null},"y":{"datum":-6.5,"axis":null},"text":{"value":"[GeV]"}}}
]},
{"width":28,"height":600,
"layer":[
{"data":{"values":[{"lo":1,"hi":1000}]},
"mark":{"type":"rect","stroke":"#333","strokeWidth":1,"color":{"gradient":"linear","x1":0,"y1":1,"x2":0,"y2":0,"stops":[{"offset":0,"color":"#00007f"},{"offset":0.11,"color":"#0000ff"},{"offset":0.35,"color":"#00e5ff"},{"offset":0.65,"color":"#f7f500"},{"offset":0.89,"color":"#ff1200"},{"offset":1,"color":"#7f0000"}]}},
"encoding":{
"x":{"datum":0,"scale":{"domain":[0,1]},"axis":null},
"x2":{"datum":1},
"y":{"field":"lo","type":"quantitative","scale":{"type":"log","domain":[1,1000]},"axis":{"orient":"right","title":null,"zindex":1,"grid":false,"values":[1,2,3,4,5,6,7,8,9,10,20,30,40,50,60,70,80,90,100,200,300,400,500,600,700,800,900,1000],"labelExpr":"datum.value==1?'10⁰':datum.value==10?'10¹':datum.value==100?'10²':datum.value==1000?'10³':''","labelPadding":20,"tickSize":{"condition":{"test":"datum.value==1||datum.value==10||datum.value==100||datum.value==1000","value":-7},"value":-4},"tickColor":"#222"}},
"y2":{"field":"hi"}
}},
{"data":{"values":[{"note":"σ"}]},"mark":{"type":"text","align":"left","baseline":"alphabetic","angle":270,"font":"Liberation Serif","fontStyle":"italic","fontSize":38,"color":"#222"},"encoding":{"x":{"datum":4.61,"axis":null},"y":{"datum":4.89},"text":{"value":"σ"}}},
{"data":{"values":[{"note":"H"}]},"mark":{"type":"text","align":"left","baseline":"alphabetic","angle":270,"font":"Liberation Serif","fontStyle":"italic","fontSize":23,"color":"#222"},"encoding":{"x":{"datum":4.11,"axis":null},"y":{"datum":6.15},"text":{"value":"H"}}},
{"data":{"values":[{"note":"14"}]},"mark":{"type":"text","align":"left","baseline":"alphabetic","angle":270,"font":"Liberation Serif","fontSize":23,"color":"#222"},"encoding":{"x":{"datum":5,"axis":null},"y":{"datum":6.15},"text":{"value":"14"}}},
{"data":{"values":[{"note":"TeV"}]},"mark":{"type":"text","align":"left","baseline":"alphabetic","angle":270,"font":"Liberation Serif","fontStyle":"italic","fontSize":22,"color":"#222"},"encoding":{"x":{"datum":5,"axis":null},"y":{"datum":9.2},"text":{"value":"TeV"}}},
{"data":{"values":[{"note":"times"}]},"mark":{"type":"text","align":"left","baseline":"alphabetic","angle":270,"font":"DejaVu Sans","fontSize":30,"color":"#222"},"encoding":{"x":{"datum":4.61,"axis":null},"y":{"datum":16.1},"text":{"value":"×"}}},
{"data":{"values":[{"note":"BR"}]},"mark":{"type":"text","align":"left","baseline":"alphabetic","angle":270,"font":"Liberation Serif","fontStyle":"italic","fontSize":36,"color":"#222"},"encoding":{"x":{"datum":4.61,"axis":null},"y":{"datum":20.8},"text":{"value":"ℬ(H→ττ̄)"}}},
{"data":{"values":[{"note":"fb"}]},"mark":{"type":"text","align":"left","baseline":"alphabetic","angle":270,"font":"DejaVu Sans","fontSize":34,"color":"#222"},"encoding":{"x":{"datum":4.61,"axis":null},"y":{"datum":107.6},"text":{"value":"[fb]"}}}
]}
]
}
